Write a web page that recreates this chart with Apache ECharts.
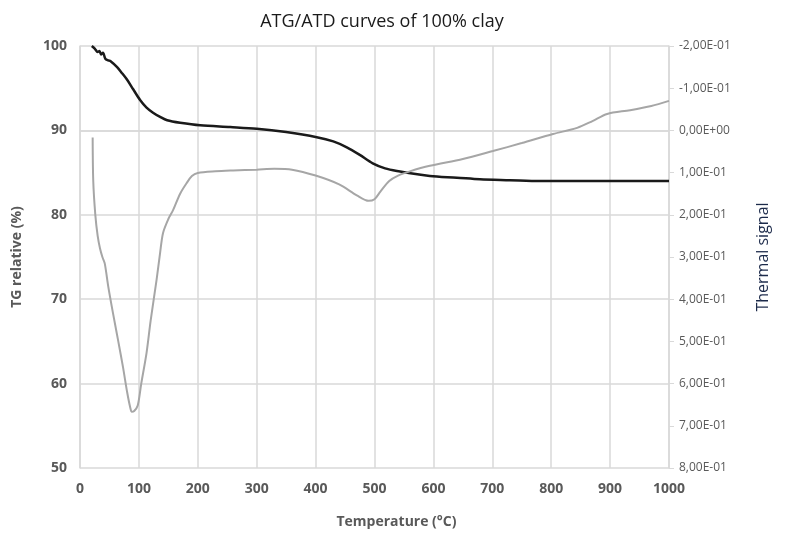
<!DOCTYPE html>
<html lang="en">
<head>
    <meta charset="utf-8">
    <title>ATG/ATD curves</title>
    <script src="https://cdn.jsdelivr.net/npm/echarts@6/dist/echarts.min.js"></script>
</head>
<body style="margin:0">
<div id="chart" style="width:785px;height:538px"></div>
<script>
    // TG curve (left axis, %)
    var tgTemp = [20, 25, 30, 33, 36, 39, 43, 48, 52, 63, 70, 80, 90, 102, 113, 124, 136, 148, 170, 204, 255, 300, 350, 402, 430, 453, 475, 497, 518, 538, 594, 640, 679, 730, 781, 850, 1000];
    var tgValue = [100, 99.7, 99.3, 99.4, 99.0, 99.2, 98.5, 98.3, 98.2, 97.5, 96.9, 96.0, 94.9, 93.6, 92.7, 92.1, 91.6, 91.2, 90.9, 90.6, 90.4, 90.2, 89.8, 89.2, 88.7, 88.0, 87.1, 86.1, 85.5, 85.2, 84.6, 84.4, 84.2, 84.1, 84.0, 84.0, 84.0];

    // DTA curve (right axis, thermal signal)
    var dtaTemp = [21.5, 22.5, 26, 30, 34, 38, 42, 48, 56, 65, 73, 80, 85, 88, 92, 98, 104, 113, 120, 130, 136, 141, 150, 158, 170, 181, 190, 200, 230, 260, 300, 330, 360, 400, 440, 470, 490, 500, 510, 525, 540, 560, 594, 650, 701, 750, 803, 844, 870, 895, 934, 970, 1000];
    var dtaValue = [0.017, 0.12, 0.2, 0.25, 0.28, 0.30, 0.315, 0.37, 0.433, 0.50, 0.561, 0.62, 0.655, 0.667, 0.665, 0.652, 0.60, 0.527, 0.45, 0.354, 0.29, 0.243, 0.21, 0.189, 0.15, 0.125, 0.108, 0.101, 0.097, 0.095, 0.093, 0.091, 0.093, 0.107, 0.128, 0.154, 0.167, 0.163, 0.145, 0.12, 0.107, 0.097, 0.084, 0.068, 0.049, 0.030, 0.0085, -0.006, -0.022, -0.039, -0.048, -0.058, -0.070];

    var thermalTicks = ['-2,00E-01', '-1,00E-01', '0,00E+00', '1,00E-01', '2,00E-01', '3,00E-01', '4,00E-01', '5,00E-01', '6,00E-01', '7,00E-01', '8,00E-01'];

    function pairs(xs, ys) {
        var out = [];
        for (var i = 0; i < xs.length; i++) {
            out.push([xs[i], ys[i]]);
        }
        return out;
    }

    var mChart = echarts.init(document.getElementById('chart'));
    var gridColor = '#d9d9d9';
    var labelColor = '#595959';
    var option = {
        animation: false,
        textStyle: {fontFamily: 'Open Sans'},
        title: {
            text: 'ATG/ATD curves of 100% clay',
            left: 377,
            textAlign: 'center',
            top: 8,
            textStyle: {fontSize: 18, fontWeight: 'normal', color: '#1a1a1a', fontFamily: 'Open Sans'}
        },
        grid: {left: 80, right: 116, top: 46, bottom: 70},
        xAxis: {
            type: 'value',
            min: 0, max: 1000, interval: 100,
            name: 'Temperature (°C)',
            nameLocation: 'middle',
            nameGap: 47,
            nameTextStyle: {fontWeight: 'bold', fontSize: 14, color: labelColor, padding: [0, 0, 0, 44]},
            axisLine: {lineStyle: {color: gridColor, width: 1.5}},
            axisTick: {show: false},
            axisLabel: {
                fontWeight: 'bold', fontSize: 14, color: labelColor, margin: 14,
                formatter: function (v) { return String(v); }
            },
            splitLine: {lineStyle: {color: gridColor, width: 1.5}}
        },
        yAxis: [
            {
                type: 'value',
                min: 50, max: 100, interval: 10,
                name: 'TG relative (%)',
                nameLocation: 'middle',
                nameGap: 56,
                nameTextStyle: {fontWeight: 'bold', fontSize: 14, color: labelColor},
                axisLine: {show: true, lineStyle: {color: gridColor, width: 1.5}},
                axisTick: {show: false},
                axisLabel: {fontWeight: 'bold', fontSize: 14, color: labelColor, margin: 13},
                splitLine: {lineStyle: {color: gridColor, width: 1.5}}
            },
            {
                type: 'value',
                position: 'right',
                inverse: true,
                min: -0.2, max: 0.8, interval: 0.1,
                name: 'Thermal signal',
                nameLocation: 'middle',
                nameGap: 86,
                nameRotate: 90,
                nameTextStyle: {fontSize: 16, color: '#1c2a4a'},
                axisLine: {show: true, lineStyle: {color: gridColor, width: 1.5}},
                axisTick: {show: true, inside: false, length: 5, lineStyle: {color: gridColor}},
                axisLabel: {
                    fontSize: 12, color: labelColor, margin: 10,
                    formatter: function (v) {
                        return thermalTicks[Math.round((v + 0.2) / 0.1)];
                    }
                },
                splitLine: {show: false}
            }
        ],
        series: [
            {
                name: 'TG',
                type: 'line',
                yAxisIndex: 0,
                showSymbol: false,
                smooth: 0.3,
                lineStyle: {color: '#1a1a1a', width: 2.5},
                data: pairs(tgTemp, tgValue)
            },
            {
                name: 'DTA',
                type: 'line',
                yAxisIndex: 1,
                showSymbol: false,
                smooth: 0.3,
                lineStyle: {color: '#a6a6a6', width: 2},
                data: pairs(dtaTemp, dtaValue)
            }
        ]
    };
    mChart.setOption(option);
</script>
</body>
</html>
